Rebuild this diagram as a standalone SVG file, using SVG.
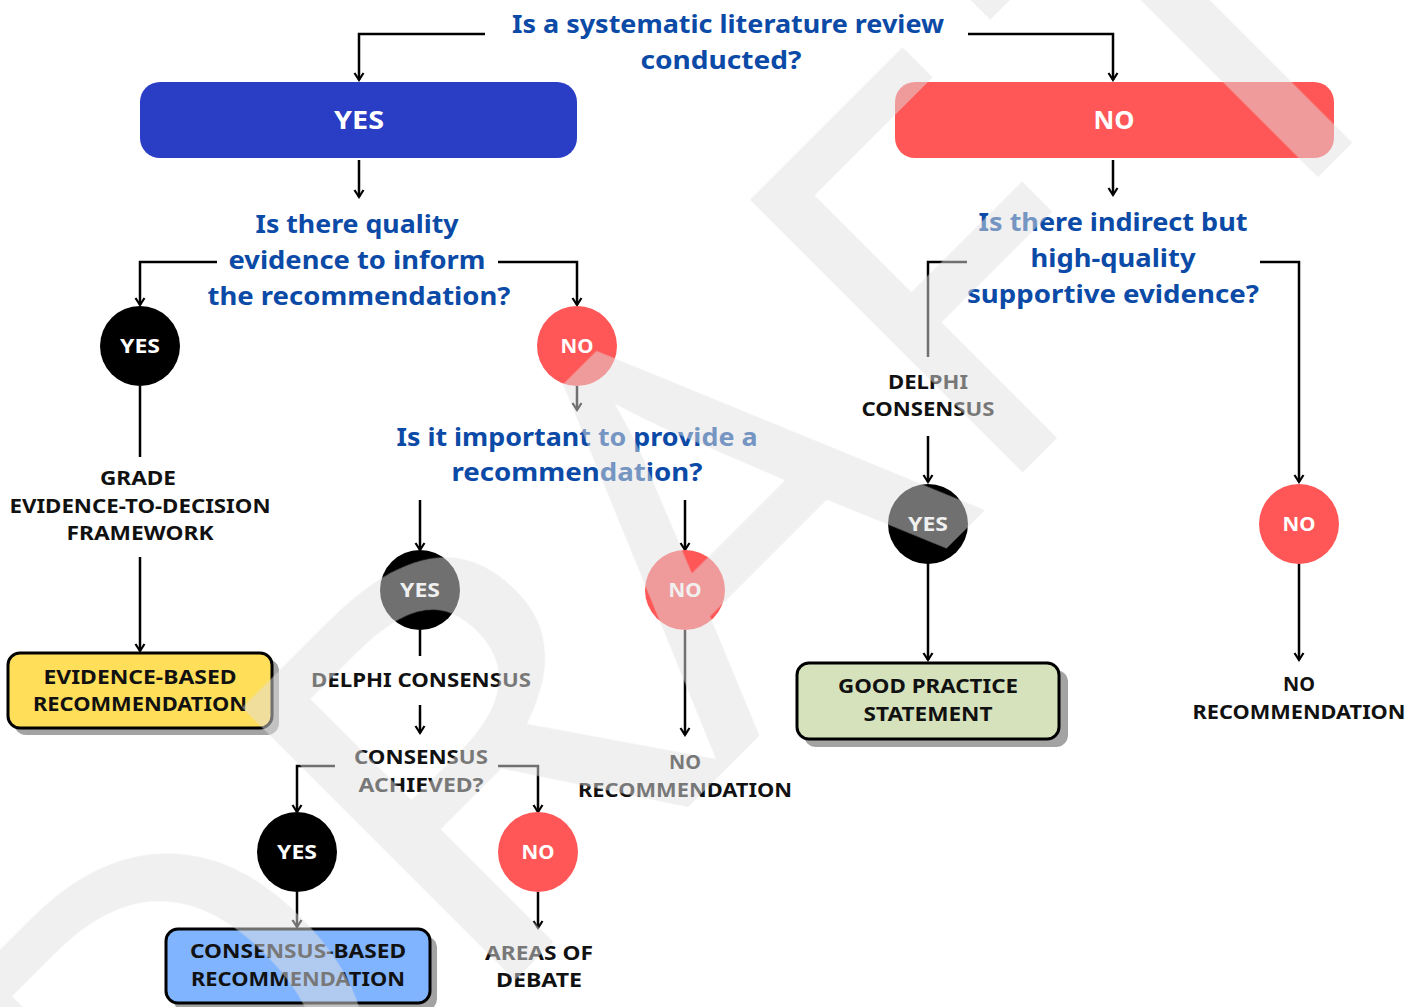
<svg xmlns="http://www.w3.org/2000/svg" width="1422" height="1007" viewBox="0 0 1422 1007">
<defs>
<style>
.q{font-family:"Noto Sans","Open Sans","Liberation Sans",sans-serif;font-weight:700;font-size:25px;fill:#0b4aa6;text-anchor:middle}
.l{font-family:"Noto Sans","Open Sans","Liberation Sans",sans-serif;font-weight:700;font-size:19px;fill:#111;text-anchor:middle}
.w{font-family:"Noto Sans","Open Sans","Liberation Sans",sans-serif;font-weight:700;fill:#fff;text-anchor:middle}
.c{fill:none;stroke:#000;stroke-width:2.5}
.a{marker-end:url(#ah)}
.sh{fill:#a3a3a3}
.bx{stroke:#000;stroke-width:3}
.wm{font-family:"Noto Sans","Open Sans",sans-serif;font-weight:400;font-size:540px;fill:#e1e1e1;text-anchor:middle}
</style>
<marker id="ah" viewBox="0 0 12 12" refX="10" refY="6" markerWidth="12" markerHeight="12" orient="auto" markerUnits="userSpaceOnUse">
<path d="M3,1.5 L10,6 L3,10.5" fill="none" stroke="#000" stroke-width="2.2"/>
</marker>
</defs>
<rect width="1422" height="1007" fill="#fff"/>

<g id="connectors">
<path class="c a" d="M485,34 H359 V80"/>
<path class="c a" d="M968,34 H1113 V80"/>
<path class="c a" d="M359,160 V197"/>
<path class="c a" d="M217,262 H140 V305"/>
<path class="c a" d="M498,262 H577 V305"/>
<path class="c" d="M140,386 V457"/>
<path class="c a" d="M140,557 V651"/>
<path class="c a" d="M577,386 V410"/>
<path class="c a" d="M420,500 V550"/>
<path class="c a" d="M685,500 V550"/>
<path class="c" d="M420,630 V656"/>
<path class="c a" d="M420,705 V733"/>
<path class="c a" d="M335,766 H297 V812"/>
<path class="c a" d="M498,766 H538 V812"/>
<path class="c a" d="M297,892 V927"/>
<path class="c a" d="M538,892 V928"/>
<path class="c a" d="M685,630 V735"/>
<path class="c a" d="M1113,160 V195"/>
<path class="c" d="M967,262 H928 V357"/>
<path class="c a" d="M928,436 V482"/>
<path class="c a" d="M928,563 V660"/>
<path class="c a" d="M1260,262 H1299 V482"/>
<path class="c a" d="M1299,563 V660"/>
</g>

<g id="q1">
<text class="q" x="728" y="33" textLength="432" lengthAdjust="spacingAndGlyphs">Is a systematic literature review</text>
<text class="q" x="721" y="69" textLength="161" lengthAdjust="spacingAndGlyphs">conducted?</text>
</g>
<g id="yes-box">
<rect x="140" y="82" width="437" height="76" rx="20" fill="#293dc5"/>
<text class="w" x="359" y="129" font-size="25" textLength="50" lengthAdjust="spacingAndGlyphs">YES</text>
</g>
<g id="no-box">
<rect x="895" y="82" width="439" height="76" rx="20" fill="#ff5757"/>
<text class="w" x="1114" y="129" font-size="25" textLength="41" lengthAdjust="spacingAndGlyphs">NO</text>
</g>
<g id="q2">
<text class="q" x="357" y="233" textLength="203" lengthAdjust="spacingAndGlyphs">Is there quality</text>
<text class="q" x="357" y="269" textLength="257" lengthAdjust="spacingAndGlyphs">evidence to inform</text>
<text class="q" x="359" y="305" textLength="303" lengthAdjust="spacingAndGlyphs">the recommendation?</text>
</g>
<g id="q3">
<text class="q" x="1113" y="231" textLength="269" lengthAdjust="spacingAndGlyphs">Is there indirect but</text>
<text class="q" x="1113" y="267" textLength="165" lengthAdjust="spacingAndGlyphs">high-quality</text>
<text class="q" x="1113" y="303" textLength="292" lengthAdjust="spacingAndGlyphs">supportive evidence?</text>
</g>
<g id="yes1">
<circle cx="140" cy="346" r="40" fill="#000"/>
<text class="w" x="140" y="353" font-size="19" textLength="40" lengthAdjust="spacingAndGlyphs">YES</text>
</g>
<g id="no1">
<circle cx="577" cy="346" r="40" fill="#ff5757"/>
<text class="w" x="577" y="353" font-size="19" textLength="33" lengthAdjust="spacingAndGlyphs">NO</text>
</g>
<g id="grade">
<text class="l" x="138" y="485" textLength="76" lengthAdjust="spacingAndGlyphs">GRADE</text>
<text class="l" x="140" y="513" textLength="261" lengthAdjust="spacingAndGlyphs">EVIDENCE-TO-DECISION</text>
<text class="l" x="140" y="540" textLength="147" lengthAdjust="spacingAndGlyphs">FRAMEWORK</text>
</g>
<g id="evidence-based">
<rect class="sh" x="14" y="659" width="265" height="76" rx="12"/>
<rect class="bx" x="8" y="653" width="264" height="75" rx="12" fill="#ffde59"/>
<text class="l" x="140" y="684" textLength="193" lengthAdjust="spacingAndGlyphs">EVIDENCE-BASED</text>
<text class="l" x="140" y="711" textLength="214" lengthAdjust="spacingAndGlyphs">RECOMMENDATION</text>
</g>
<g id="q4">
<text class="q" x="577" y="446" textLength="361" lengthAdjust="spacingAndGlyphs">Is it important to provide a</text>
<text class="q" x="577" y="481" textLength="251" lengthAdjust="spacingAndGlyphs">recommendation?</text>
</g>
<g id="yes2">
<circle cx="420" cy="590" r="40" fill="#000"/>
<text class="w" x="420" y="597" font-size="19" textLength="40" lengthAdjust="spacingAndGlyphs">YES</text>
</g>
<g id="no2">
<circle cx="685" cy="590" r="40" fill="#ff5757"/>
<text class="w" x="685" y="597" font-size="19" textLength="33" lengthAdjust="spacingAndGlyphs">NO</text>
</g>
<g id="delphi1">
<text class="l" x="421" y="687" textLength="220" lengthAdjust="spacingAndGlyphs">DELPHI CONSENSUS</text>
</g>
<g id="consensus-achieved">
<text class="l" x="421" y="764" textLength="134" lengthAdjust="spacingAndGlyphs">CONSENSUS</text>
<text class="l" x="421" y="792" textLength="125" lengthAdjust="spacingAndGlyphs">ACHIEVED?</text>
</g>
<g id="yes3">
<circle cx="297" cy="852" r="40" fill="#000"/>
<text class="w" x="297" y="859" font-size="19" textLength="40" lengthAdjust="spacingAndGlyphs">YES</text>
</g>
<g id="no3">
<circle cx="538" cy="852" r="40" fill="#ff5757"/>
<text class="w" x="538" y="859" font-size="19" textLength="33" lengthAdjust="spacingAndGlyphs">NO</text>
</g>
<g id="consensus-based">
<rect class="sh" x="173" y="936" width="264" height="75" rx="12"/>
<rect class="bx" x="166" y="929" width="264" height="74" rx="12" fill="#80b4ff"/>
<text class="l" x="298" y="958" textLength="216" lengthAdjust="spacingAndGlyphs">CONSENSUS-BASED</text>
<text class="l" x="298" y="986" textLength="214" lengthAdjust="spacingAndGlyphs">RECOMMENDATION</text>
</g>
<g id="debate">
<text class="l" x="539" y="960" textLength="108" lengthAdjust="spacingAndGlyphs">AREAS OF</text>
<text class="l" x="539" y="987" textLength="86" lengthAdjust="spacingAndGlyphs">DEBATE</text>
</g>
<g id="norec1">
<text class="l" x="685" y="769" textLength="32" lengthAdjust="spacingAndGlyphs">NO</text>
<text class="l" x="685" y="797" textLength="214" lengthAdjust="spacingAndGlyphs">RECOMMENDATION</text>
</g>
<g id="delphi2">
<text class="l" x="928" y="389" textLength="80" lengthAdjust="spacingAndGlyphs">DELPHI</text>
<text class="l" x="928" y="416" textLength="133" lengthAdjust="spacingAndGlyphs">CONSENSUS</text>
</g>
<g id="yes4">
<circle cx="928" cy="524" r="40" fill="#000"/>
<text class="w" x="928" y="531" font-size="19" textLength="40" lengthAdjust="spacingAndGlyphs">YES</text>
</g>
<g id="no4">
<circle cx="1299" cy="524" r="40" fill="#ff5757"/>
<text class="w" x="1299" y="531" font-size="19" textLength="33" lengthAdjust="spacingAndGlyphs">NO</text>
</g>
<g id="good-practice">
<rect class="sh" x="804" y="670" width="264" height="77" rx="12"/>
<rect class="bx" x="797" y="663" width="262" height="76" rx="12" fill="#d5e2bc"/>
<text class="l" x="928" y="693" textLength="180" lengthAdjust="spacingAndGlyphs">GOOD PRACTICE</text>
<text class="l" x="928" y="721" textLength="129" lengthAdjust="spacingAndGlyphs">STATEMENT</text>
</g>
<g id="norec2">
<text class="l" x="1299" y="691" textLength="32" lengthAdjust="spacingAndGlyphs">NO</text>
<text class="l" x="1299" y="719" textLength="213" lengthAdjust="spacingAndGlyphs">RECOMMENDATION</text>
</g>

<g id="watermark" opacity="0.5">
<g transform="translate(747.5,747.5) rotate(-45)">
<text class="wm" x="-600" y="0">D</text>
<text class="wm" transform="translate(-305,0) scale(1.12,1)" x="94" y="0">R</text>
<text class="wm" transform="translate(150,0) scale(1.08,1)" x="0" y="0">A</text>
<text class="wm" x="477" y="0">F</text>
<text class="wm" x="831" y="0">T</text>
</g>
</g>
</svg>
